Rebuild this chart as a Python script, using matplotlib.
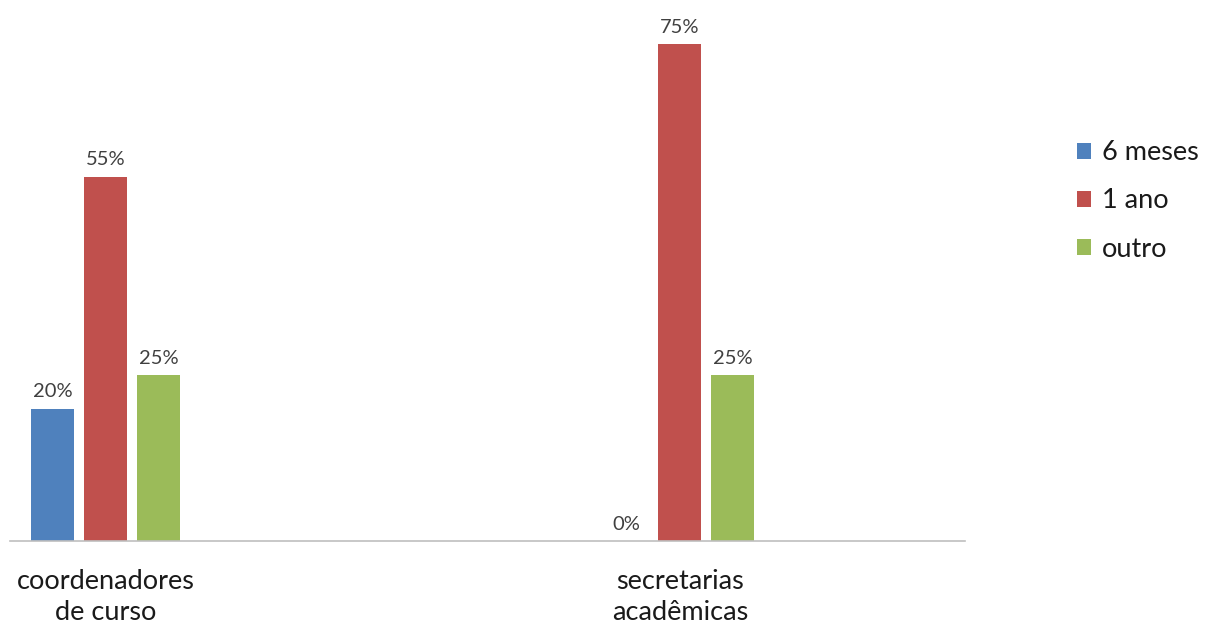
import numpy as np
import matplotlib.pyplot as plt
from matplotlib.patches import Patch

plt.rcParams['font.family'] = ['Lato', 'DejaVu Sans']

categorias = ['coordenadores\nde curso', 'secretarias\nacadêmicas']
series = ['6 meses', '1 ano', 'outro']
valores = {
    '6 meses': [0.20, 0.00],
    '1 ano': [0.55, 0.75],
    'outro': [0.25, 0.25],
}
cores = ['#4F81BD', '#C0504D', '#9BBB59']

fig = plt.figure(figsize=(12.09, 6.28), dpi=100)
ax = fig.add_axes([10 / 1209, 87 / 628, 955 / 1209, 530 / 628])

x = np.arange(len(categorias))
largura = 0.075
passo = 0.0923

for i, (nome, cor) in enumerate(zip(series, cores)):
    pos = x + (i - 1) * passo
    vals = valores[nome]
    ax.bar(pos, vals, width=largura, color=cor, edgecolor='none')
    for px, v in zip(pos, vals):
        ax.annotate(f'{v:.0%}', (px, v), xytext=(0, 6), textcoords='offset points',
                    ha='center', va='bottom', fontsize=14.5, color='#404040')

ax.set_xlim(-0.167, 1.497)
ax.set_ylim(0, 0.8)
ax.set_yticks([])
ax.set_xticks([])
for s in ['top', 'right', 'left']:
    ax.spines[s].set_visible(False)
ax.spines['bottom'].set_color('#BFBFBF')
ax.spines['bottom'].set_linewidth(1.2)

for xi, cat in zip(x, categorias):
    ax.text(xi, -0.043, cat, ha='center', va='top', fontsize=19.5,
            color='#1a1a1a', linespacing=1.3, transform=ax.transData)

handles = [Patch(facecolor=c, edgecolor='none') for c in cores]
fig.legend(handles, series, loc='center left', bbox_to_anchor=(1053 / 1209, 1 - 201 / 628),
           frameon=False, fontsize=19.5, handlelength=0.5, handleheight=0.5,
           handletextpad=0.4, labelspacing=0.85, labelcolor='#1a1a1a')

fig.savefig('out.png', dpi=100)
